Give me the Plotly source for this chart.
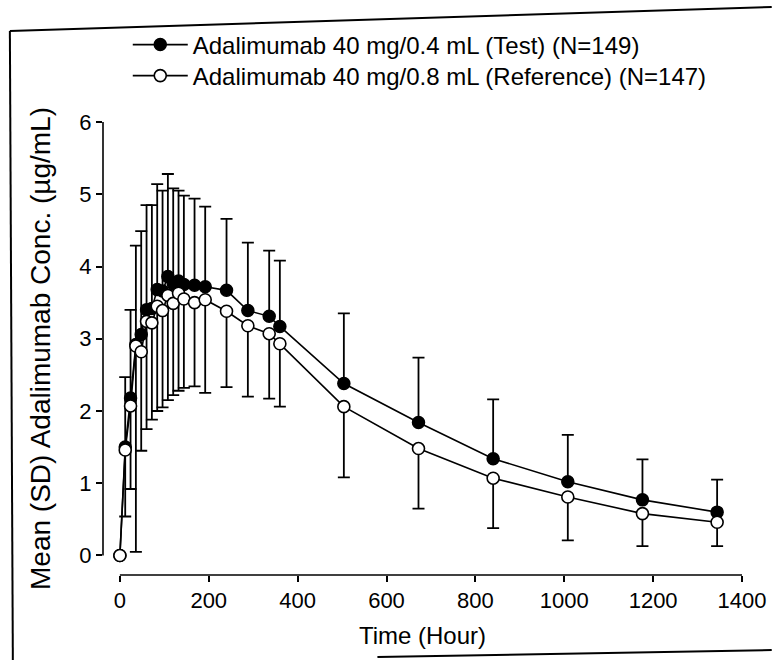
import plotly.graph_objects as go

# ---- data ----
time_h = [0, 12, 24, 36, 48, 60, 72, 84, 96, 108, 120, 132, 144, 168, 192,
          240, 288, 336, 360, 504, 672, 840, 1008, 1176, 1344]

test_mean = [0.00, 1.50, 2.18, 2.92, 3.06, 3.40, 3.42, 3.68, 3.66, 3.86, 3.76,
             3.80, 3.75, 3.74, 3.72, 3.67, 3.39, 3.31, 3.17, 2.38, 1.84, 1.34,
             1.02, 0.77, 0.60]
test_sd = [0.00, 0.97, 1.22, 1.37, 1.43, 1.45, 1.43, 1.46, 1.39, 1.42, 1.32,
           1.25, 1.23, 1.20, 1.11, 0.99, 0.94, 0.91, 0.91, 0.97, 0.90, 0.82,
           0.65, 0.56, 0.45]

ref_mean = [0.00, 1.46, 2.07, 2.90, 2.82, 3.24, 3.22, 3.45, 3.39, 3.60, 3.49,
            3.63, 3.55, 3.50, 3.54, 3.38, 3.18, 3.07, 2.93, 2.06, 1.48, 1.07,
            0.81, 0.58, 0.46]
ref_sd = [0.00, 0.92, 1.15, 2.85, 1.37, 1.49, 1.34, 1.45, 1.34, 1.45, 1.27,
          1.35, 1.23, 1.16, 1.29, 1.05, 0.98, 0.90, 0.87, 0.98, 0.83, 0.69,
          0.60, 0.45, 0.33]

test_name = "Adalimumab 40 mg/0.4 mL (Test) (N=149)"
ref_name = "Adalimumab 40 mg/0.8 mL (Reference) (N=147)"

x_ticks = [0, 200, 400, 600, 800, 1000, 1200, 1400]
y_ticks = [0, 1, 2, 3, 4, 5, 6]

FONT = "Liberation Sans, Arial, Helvetica, sans-serif"
zeros = [0] * len(time_h)

fig = go.Figure()

fig.add_trace(go.Scatter(
    x=time_h, y=test_mean, name=test_name, mode="lines+markers",
    legend="legend",
    line=dict(color="black", width=1.6),
    marker=dict(symbol="circle", size=12, color="black",
                line=dict(color="black", width=1.5)),
    error_y=dict(type="data", symmetric=False, array=test_sd,
                 arrayminus=zeros, color="black", thickness=1.8, width=6),
))

fig.add_trace(go.Scatter(
    x=time_h, y=ref_mean, name=ref_name, mode="lines+markers",
    legend="legend2",
    line=dict(color="black", width=1.6),
    marker=dict(symbol="circle", size=12, color="white",
                line=dict(color="black", width=1.6)),
    error_y=dict(type="data", symmetric=False, array=zeros,
                 arrayminus=ref_sd, color="black", thickness=1.8, width=6),
))

# plot-area geometry helpers (pixel -> paper)
L, R, T, B = 103, 30, 122, 85
W, H = 778, 660
pw, ph = W - L - R, H - T - B


def px(xp):
    return (xp - L) / pw


def py(yp):
    return (H - B - yp) / ph


shapes = [
    # detached axis lines
    dict(type="line", xref="paper", yref="y", x0=0, x1=0,
         y0=y_ticks[0], y1=y_ticks[-1], line=dict(color="black", width=1.6)),
    dict(type="line", xref="x", yref="paper", x0=x_ticks[0], x1=x_ticks[-1],
         y0=0, y1=0, line=dict(color="black", width=1.6)),
    # outer frame of the scanned figure
    dict(type="line", xref="paper", yref="paper", x0=px(9), y0=py(31),
         x1=px(778), y1=py(7), line=dict(color="black", width=2)),
    dict(type="line", xref="paper", yref="paper", x0=px(9), y0=py(31),
         x1=px(12), y1=py(660), line=dict(color="black", width=2)),
    dict(type="line", xref="paper", yref="paper", x0=px(380), y0=py(657),
         x1=px(778), y1=py(650), line=dict(color="black", width=2)),
]

legend_common = dict(xanchor="left", yanchor="middle",
                     font=dict(size=24, family=FONT), itemwidth=55,
                     bgcolor="rgba(0,0,0,0)", borderwidth=0)

fig.update_layout(
    width=W, height=H,
    margin=dict(l=L, r=R, t=T, b=B),
    paper_bgcolor="white", plot_bgcolor="white",
    font=dict(family=FONT, color="black", size=22),
    showlegend=True,
    legend=dict(x=px(128), y=py(45), **legend_common),
    legend2=dict(x=px(128), y=py(76), **legend_common),
    shapes=shapes,
    xaxis=dict(range=[-38, 1400], tickvals=x_ticks, ticks="outside",
               ticklen=6, tickwidth=1.5, tickcolor="black",
               showline=False, showgrid=False, zeroline=False,
               tickfont=dict(size=22),
               title=dict(text="Time (Hour)", font=dict(size=24), standoff=14)),
    yaxis=dict(range=[-0.27, 6.0], tickvals=y_ticks, ticks="outside",
               ticklen=6, tickwidth=1.5, tickcolor="black",
               showline=False, showgrid=False, zeroline=False,
               tickfont=dict(size=22),
               title=dict(text="Mean (SD) Adalimumab Conc. (µg/mL)",
                          font=dict(size=28), standoff=20)),
)

fig.write_html("out.html")
